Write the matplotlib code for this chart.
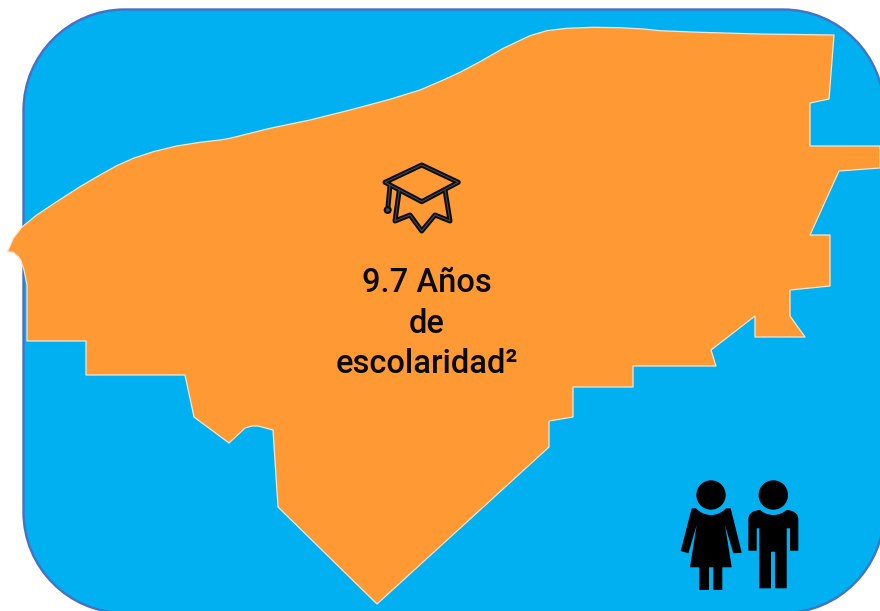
import matplotlib
matplotlib.use("Agg")
import matplotlib.pyplot as plt
from matplotlib.patches import Polygon, Circle, PathPatch
from matplotlib.path import Path

plt.rcParams['font.family'] = ['Roboto', 'DejaVu Sans']

coast_x = [7.5, 13.3, 21.7, 36.7, 56.7, 80, 100, 116.7, 133.3, 153.3, 176.7, 200, 220, 230, 270, 310, 350, 390, 420,
           443.3, 460, 480, 503.3, 530, 546.7, 566.7, 593.3, 620, 643.3, 660, 700, 760, 834]
coast_y = [251.7, 238.3, 227.3, 215, 201.7, 186.7, 175, 165.7, 158.3, 151.7, 146, 142.3, 140, 138.3, 128.3, 120, 110, 99.3, 90,
           80, 72.3, 61.7, 48.3, 35.7, 30.7, 28.3, 27.3, 27.7, 29, 30.7, 32.3, 34, 35]
border_x = [829, 810, 810, 880, 880, 839, 810, 830, 830, 790, 790, 805, 755, 755, 711, 716, 633, 633, 573, 573, 549, 549,
            377, 278, 273, 258, 252, 245, 229, 194, 185, 86, 86, 27, 27, 24, 20.7, 18.3, 13.3]
border_y = [99, 103, 146, 146, 168, 171, 235, 235, 286, 290, 316, 337, 337, 316, 350, 366, 366, 387, 387, 417, 421, 447,
            604, 507, 430, 426, 426, 428, 443, 417, 375, 375, 341, 341, 285, 270, 260, 256.7, 252.3]

label_lines = ["9.7 Años", "de", "escolaridad²"]
label_y = [283, 324, 364]

hat_top_x = [421.7, 385, 421.7, 458.3]
hat_top_y = [165, 182.3, 201.7, 182.3]
hat_base_x = [399.3, 395, 410, 421.7, 435, 450, 445]
hat_base_y = [190, 221, 215, 231, 215, 221, 190]
tassel_x = [390, 387.7]
tassel_y = [185, 210]

woman_x = [691.7, 730.7, 741.7, 733.3, 725, 731.7, 722.3, 722.3, 713.3, 713.3, 709, 709, 699.3, 699.3, 690, 696.7, 688.3, 680.7]
woman_y = [508.3, 508.3, 552.7, 553.3, 525, 567.3, 567.3, 590, 590, 567.3, 567.3, 590, 590, 567.3, 567.3, 525, 553.3, 551]
man_x = [748.3, 749.5, 753, 758.3, 788.3, 793.5, 797, 798.3, 798.3, 790, 790, 786.7, 786.7, 775, 775, 771, 771, 759.3, 759.3, 756.7, 756.7, 748.3]
man_y = [518.3, 514.5, 511.5, 510, 510, 511.5, 514.5, 518.3, 550.7, 550.7, 528.3, 528.3, 588.3, 588.3, 551.7, 551.7, 588.3, 588.3, 528.3, 528.3, 550.7, 550.7]
head_x = [711, 773.3]
head_y = [495, 495]

card_left, card_top, card_right, card_bottom = 23.5, 9.5, 884, 613
card_radius = 101

fig = plt.figure(figsize=(8.8, 6.11), dpi=100)
ax = fig.add_axes([0, 0, 1, 1])
ax.set_xlim(0, 880)
ax.set_ylim(611, 0)
ax.axis('off')

BLUE = '#00B0F0'
k = card_radius * (1 - 0.5523)
l, t, r, b, R = card_left, card_top, card_right, card_bottom, card_radius
verts = [(l + R, t), (r - R, t), (r - k, t), (r, t + k), (r, t + R), (r, b - R), (r, b - k), (r - k, b), (r - R, b),
         (l + R, b), (l + k, b), (l, b - k), (l, b - R), (l, t + R), (l, t + k), (l + k, t), (l + R, t)]
codes = [Path.MOVETO, Path.LINETO, Path.CURVE4, Path.CURVE4, Path.CURVE4, Path.LINETO, Path.CURVE4, Path.CURVE4, Path.CURVE4,
         Path.LINETO, Path.CURVE4, Path.CURVE4, Path.CURVE4, Path.LINETO, Path.CURVE4, Path.CURVE4, Path.CURVE4]
ax.add_patch(PathPatch(Path(verts, codes), fc=BLUE, ec='#4472C4', lw=1.7, zorder=1))

outline = list(zip(coast_x + border_x, coast_y + border_y))
ax.add_patch(Polygon(outline, closed=True, fc='#FF9933', ec='#F2E6D8', lw=0.9, joinstyle='round', zorder=2))

for line, y in zip(label_lines, label_y):
    ax.text(427, y, line, ha='center', va='center', fontsize=23.5, fontweight='medium', color='#0a0a0a', zorder=5)

# graduation cap
for color, lw, z in [('#0d0d0d', 3.6, 4), ('#4a4f57', 0.7, 5)]:
    ax.add_patch(Polygon(list(zip(hat_top_x, hat_top_y)), closed=True, fill=False, ec=color, lw=lw, joinstyle='round', zorder=z))
    ax.plot(hat_base_x, hat_base_y, color=color, lw=lw, solid_joinstyle='round', solid_capstyle='round', zorder=z)
    ax.plot(tassel_x, tassel_y, color=color, lw=lw, solid_capstyle='round', zorder=z)
ax.add_patch(Circle((tassel_x[1], tassel_y[1]), 4, fc='#0d0d0d', ec='none', zorder=6))
ax.add_patch(Circle((tassel_x[1], tassel_y[1]), 1.8, fc='#4a4f57', ec='none', zorder=7))

# people
ax.add_patch(Polygon(list(zip(woman_x, woman_y)), closed=True, fc='black', ec='none', zorder=3))
ax.add_patch(Polygon(list(zip(man_x, man_y)), closed=True, fc='black', ec='none', zorder=3))
for hx, hy in zip(head_x, head_y):
    ax.add_patch(Circle((hx, hy), 20, fc=BLUE, ec='none', zorder=4))
    ax.add_patch(Circle((hx, hy), 14.7, fc='black', ec='none', zorder=5))

fig.savefig('out.png', dpi=100, facecolor='white')
